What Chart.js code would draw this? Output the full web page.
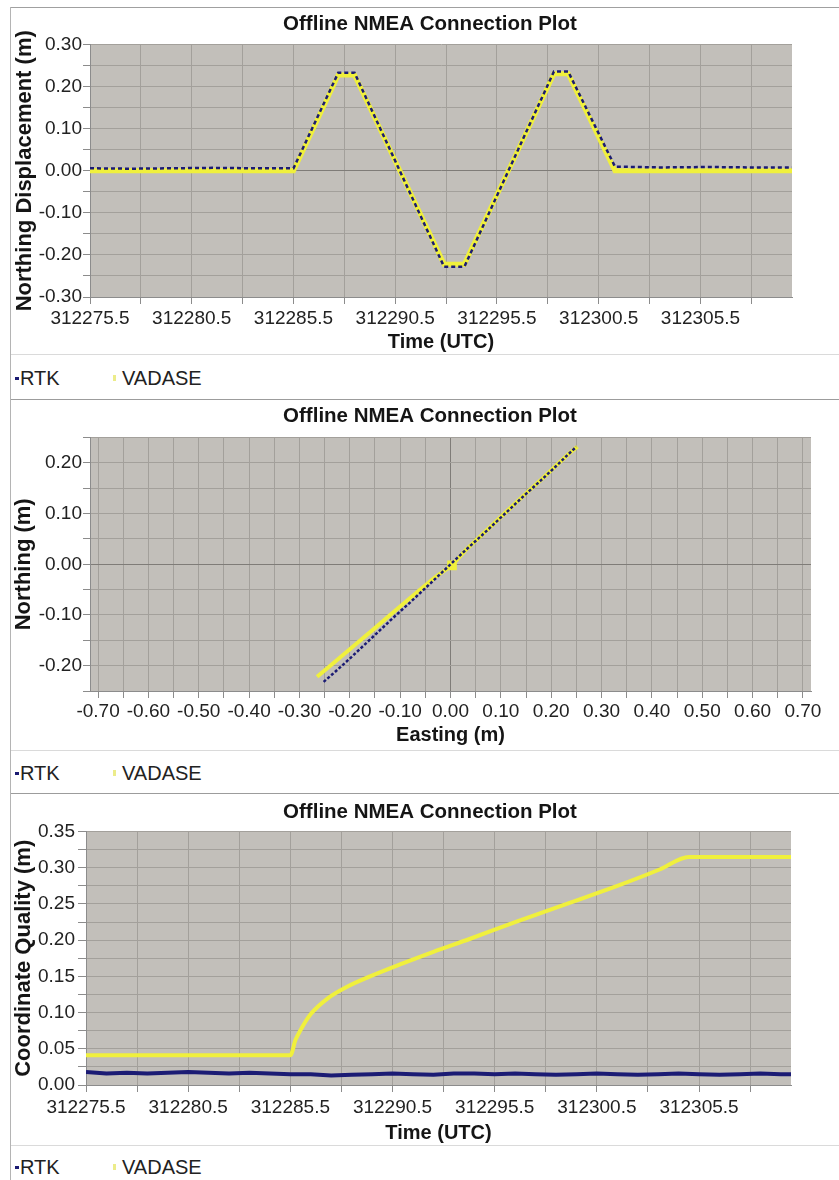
<!DOCTYPE html>
<html>
<head>
<meta charset="utf-8">
<title>Offline NMEA Connection Plot</title>
<script src="https://cdn.jsdelivr.net/npm/chart.js@4.4.1/dist/chart.umd.min.js"></script>
<style>
  body { margin:0; width:839px; height:1180px; position:relative; overflow:hidden; background:#fff; font-family:'Liberation Sans', Arial, sans-serif; }
  #frameTop { position:absolute; left:10px; top:7px; width:829px; height:1px; background:#a0a0a0; }
  #frameLeft { position:absolute; left:10px; top:7px; width:1px; height:1173px; background:#b4b4b4; }
  .line { position:absolute; left:11px; width:828px; height:1px; }
  .light { background:#dadada; }
  .dark { background:#9c9c9c; }
  canvas { position:absolute; left:11px; }
  .legend { position:absolute; left:11px; width:828px; height:24px; font-size:20px; line-height:24px; color:#222; }
  .legend span { position:absolute; }
  .mk-rtk { left:4px; top:11px; width:4px; height:3px; background:#1b1b72; }
  .txt-rtk { left:9px; top:0; }
  .mk-vad { left:102px; top:9px; width:3px; height:6px; background:#ecec8a; }
  .txt-vad { left:111px; top:0; }
</style>
</head>
<body>
<div id="frameTop"></div>
<div id="frameLeft"></div>

<canvas id="northChart" width="828" height="346" style="top:8px"></canvas>
<div class="line light" style="top:354px"></div>
<div class="legend" style="top:366px"><span class="mk-rtk"></span><span class="txt-rtk">RTK</span><span class="mk-vad"></span><span class="txt-vad">VADASE</span></div>
<div class="line dark" style="top:399px"></div>

<canvas id="planChart" width="828" height="350" style="top:400px"></canvas>
<div class="line light" style="top:750px"></div>
<div class="legend" style="top:761px"><span class="mk-rtk"></span><span class="txt-rtk">RTK</span><span class="mk-vad"></span><span class="txt-vad">VADASE</span></div>
<div class="line dark" style="top:793px"></div>

<canvas id="qualityChart" width="828" height="351" style="top:794px"></canvas>
<div class="line light" style="top:1145px"></div>
<div class="legend" style="top:1155px"><span class="mk-rtk"></span><span class="txt-rtk">RTK</span><span class="mk-vad"></span><span class="txt-vad">VADASE</span></div>

<script>
// top chart - northing displacement over time
const northTime = [312275.5, 312277.5, 312279.5, 312281.5, 312283.5, 312285.5, 312287.7, 312288.5, 312292.9, 312293.9, 312298.3, 312299.0, 312301.3, 312303.5, 312306.0, 312308.0, 312310.0];
const northRtk = [0.006, 0.005, 0.006, 0.007, 0.006, 0.006, 0.233, 0.233, -0.228, -0.228, 0.236, 0.236, 0.010, 0.008, 0.009, 0.008, 0.008];
const northVadase = [0.000, 0.000, 0.000, 0.000, 0.000, 0.000, 0.228, 0.228, -0.222, -0.222, 0.231, 0.231, 0.000, 0.000, 0.000, 0.000, 0.000];
const timeTickLabels = ['312275.5', '312280.5', '312285.5', '312290.5', '312295.5', '312300.5', '312305.5'];
const northTickLabels = ['-0.30', '-0.20', '-0.10', '0.00', '0.10', '0.20', '0.30'];

// middle chart - easting vs northing
const planRtkEast = [-0.252, -0.23, -0.20, -0.17, -0.14, -0.11, -0.08, -0.05, -0.02, 0.00, 0.03, 0.06, 0.09, 0.12, 0.15, 0.18, 0.21, 0.235, 0.25];
const planRtkNorth = [-0.232, -0.213, -0.186, -0.158, -0.130, -0.102, -0.075, -0.047, -0.019, 0.000, 0.028, 0.055, 0.083, 0.111, 0.139, 0.166, 0.194, 0.218, 0.232];
const planVadaseEast = [-0.265, -0.24, -0.21, -0.18, -0.15, -0.12, -0.09, -0.06, -0.03, 0.003, 0.03, 0.06, 0.09, 0.12, 0.15, 0.18, 0.21, 0.235, 0.252];
const planVadaseNorth = [-0.222, -0.201, -0.176, -0.151, -0.126, -0.100, -0.075, -0.050, -0.025, -0.002, 0.028, 0.056, 0.084, 0.112, 0.140, 0.167, 0.195, 0.218, 0.232];
const eastTickLabels = ['-0.70', '-0.60', '-0.50', '-0.40', '-0.30', '-0.20', '-0.10', '0.00', '0.10', '0.20', '0.30', '0.40', '0.50', '0.60', '0.70'];
const planNorthTickLabels = ['-0.20', '-0.10', '0.00', '0.10', '0.20'];

// bottom chart - coordinate quality over time
const qualityRtkTime = [312275.5, 312276.5, 312277.5, 312278.5, 312279.5, 312280.5, 312281.5, 312282.5, 312283.5, 312284.5, 312285.5, 312286.5, 312287.5, 312288.5, 312289.5, 312290.5, 312291.5, 312292.5, 312293.5, 312294.5, 312295.5, 312296.5, 312297.5, 312298.5, 312299.5, 312300.5, 312301.5, 312302.5, 312303.5, 312304.5, 312305.5, 312306.5, 312307.5, 312308.5, 312309.5, 312310.0];
const qualityRtk = [0.018, 0.016, 0.017, 0.016, 0.017, 0.018, 0.017, 0.016, 0.017, 0.016, 0.015, 0.015, 0.013, 0.014, 0.015, 0.016, 0.015, 0.014, 0.016, 0.016, 0.015, 0.016, 0.015, 0.014, 0.015, 0.016, 0.015, 0.014, 0.015, 0.016, 0.015, 0.014, 0.015, 0.016, 0.015, 0.015];
const qualityVadaseTime = [312275.5, 312285.5, 312285.75, 312286.0, 312286.5, 312287.3, 312288.3, 312289.4, 312291.0, 312292.5, 312294.3, 312296.5, 312299.2, 312301.5, 312303.6, 312305.0, 312310.0];
const qualityVadase = [0.041, 0.041, 0.062, 0.076, 0.098, 0.119, 0.136, 0.150, 0.168, 0.184, 0.202, 0.225, 0.252, 0.275, 0.298, 0.315, 0.315];
const qualityTickLabels = ['0.00', '0.05', '0.10', '0.15', '0.20', '0.25', '0.30', '0.35'];

const FONT = "'Liberation Sans', Arial, sans-serif";
const RTK_COLOR = '#1b1b74';
const VADASE_COLOR = '#f0f03c';
const PLOT_BG = '#c2bfba';
const GRID = '#a3a09b';
const ZERO = '#7f7c78';

// grey plot area like the original software
const plotBackground = {
  id: 'plotBackground',
  beforeDraw(chart) {
    const { ctx, chartArea: a } = chart;
    ctx.save();
    ctx.fillStyle = PLOT_BG;
    ctx.fillRect(a.left, a.top, a.right - a.left, a.bottom - a.top);
    ctx.restore();
  }
};

function points(xs, ys) {
  return xs.map((x, i) => ({ x: x, y: ys[i] }));
}

// tick every step, only some of them get a label
function tickSteps(first, step, last) {
  const out = [];
  const n = Math.round((last - first) / step);
  for (let i = 0; i <= n; i++) out.push({ value: Math.round((first + i * step) * 10000) / 10000 });
  return out;
}

function fixed(labels, digits) {
  return function (value) {
    const s = (Math.round(value * Math.pow(10, digits)) / Math.pow(10, digits)).toFixed(digits);
    return labels.includes(s) ? s : '';
  };
}

function axis(o) {
  return {
    type: 'linear',
    min: o.min,
    max: o.max,
    afterBuildTicks: s => { s.ticks = tickSteps(o.first, o.step, o.last); },
    afterFit: s => { if (s.isHorizontal()) s.height = o.size; else s.width = o.size; },
    ticks: {
      autoSkip: false, maxRotation: 0, minRotation: 0,
      padding: o.pad, color: '#222',
      font: { family: FONT, size: 19 },
      callback: o.format
    },
    grid: {
      color: ctx => (ctx.tick && Math.abs(ctx.tick.value) < 1e-6 && o.zero ? ZERO : GRID),
      tickLength: o.tick,
      tickColor: '#8c8c8c'
    },
    border: { color: '#8c8c8c' },
    title: {
      display: true, text: o.title, color: '#151515',
      font: { family: FONT, size: o.titleSize, weight: 'bold' },
      padding: o.titlePad
    }
  };
}

// empty right-hand axis, keeps the plot narrower without moving the title
function spacer(width) {
  return {
    type: 'linear', position: 'right', display: true,
    grid: { display: false }, ticks: { display: false }, border: { display: false },
    afterFit: s => { s.width = width; }
  };
}

function title(top, bottom) {
  return {
    display: true,
    text: 'Offline NMEA Connection Plot',
    color: '#151515',
    font: { family: FONT, size: 20.5, weight: 'bold' },
    padding: { top: top, bottom: bottom }
  };
}

Chart.defaults.animation = false;

new Chart(document.getElementById('northChart'), {
  type: 'line',
  data: {
    datasets: [{
      label: 'RTK',
      data: points(northTime, northRtk),
      borderColor: RTK_COLOR, borderWidth: 2.5, borderDash: [4, 3],
      pointRadius: 0, tension: 0
    }, {
      label: 'VADASE',
      data: points(northTime, northVadase),
      borderColor: VADASE_COLOR, borderWidth: 5,
      pointRadius: 0, tension: 0
    }]
  },
  options: {
    responsive: false,
    events: [],
    layout: { padding: { left: 10, right: 0, top: 0, bottom: 0 } },
    plugins: { legend: { display: false }, tooltip: { enabled: false }, title: title(4, 8) },
    scales: {
      x: axis({ min: 312275.5, max: 312310, first: 312275.5, step: 2.5, last: 312308, size: 57, pad: 3, tick: 7,
        format: v => (timeTickLabels.includes(v.toFixed(1)) ? v.toFixed(1) : ''),
        title: 'Time (UTC)', titleSize: 20, titlePad: { top: 0, bottom: 0 } }),
      y: axis({ min: -0.3, max: 0.3, first: -0.3, step: 0.05, last: 0.3, size: 69, pad: 1, tick: 7, zero: true,
        format: fixed(northTickLabels, 2),
        title: 'Northing Displacement (m)', titleSize: 22, titlePad: { top: -9, bottom: 0 } }),
      side: spacer(47)
    }
  },
  plugins: [plotBackground]
});

new Chart(document.getElementById('planChart'), {
  type: 'scatter',
  data: {
    datasets: [{
      label: 'RTK',
      data: points(planRtkEast, planRtkNorth),
      showLine: true,
      borderColor: RTK_COLOR, borderWidth: 2.5, borderDash: [3, 2],
      pointRadius: 0
    }, {
      label: 'VADASE',
      data: points(planVadaseEast, planVadaseNorth),
      showLine: true,
      borderColor: VADASE_COLOR, borderWidth: 4,
      pointStyle: 'rect',
      pointBackgroundColor: VADASE_COLOR, pointBorderColor: VADASE_COLOR,
      pointRadius: ctx => (ctx.raw && Math.abs(ctx.raw.x) < 0.01 && Math.abs(ctx.raw.y) < 0.01 ? 4 : 0)
    }]
  },
  options: {
    responsive: false,
    events: [],
    layout: { padding: { left: 10, right: 0, top: 0, bottom: 0 } },
    plugins: { legend: { display: false }, tooltip: { enabled: false }, title: title(4, 9) },
    scales: {
      x: axis({ min: -0.716, max: 0.716, first: -0.7, step: 0.05, last: 0.7, size: 59, pad: 2, tick: 7, zero: true,
        format: fixed(eastTickLabels, 2),
        title: 'Easting (m)', titleSize: 20, titlePad: { top: 0, bottom: 3 } }),
      y: axis({ min: -0.25, max: 0.25, first: -0.25, step: 0.05, last: 0.25, size: 69, pad: 1, tick: 7, zero: true,
        format: fixed(planNorthTickLabels, 2),
        title: 'Northing (m)', titleSize: 22, titlePad: { top: -10, bottom: 0 } }),
      side: spacer(28)
    }
  },
  plugins: [plotBackground]
});

new Chart(document.getElementById('qualityChart'), {
  type: 'line',
  data: {
    datasets: [{
      label: 'RTK',
      data: points(qualityRtkTime, qualityRtk),
      borderColor: RTK_COLOR, borderWidth: 4,
      pointRadius: 0, tension: 0
    }, {
      label: 'VADASE',
      data: points(qualityVadaseTime, qualityVadase),
      borderColor: VADASE_COLOR, borderWidth: 4,
      pointRadius: 0, cubicInterpolationMode: 'monotone'
    }]
  },
  options: {
    responsive: false,
    events: [],
    layout: { padding: { left: 10, right: 0, top: 0, bottom: 0 } },
    plugins: { legend: { display: false }, tooltip: { enabled: false }, title: title(6, 7) },
    scales: {
      x: axis({ min: 312275.5, max: 312310, first: 312275.5, step: 2.5, last: 312308, size: 60, pad: 4, tick: 7,
        format: v => (timeTickLabels.includes(v.toFixed(1)) ? v.toFixed(1) : ''),
        title: 'Time (UTC)', titleSize: 20, titlePad: { top: 0, bottom: 0 } }),
      y: axis({ min: 0, max: 0.35, first: 0, step: 0.025, last: 0.35, size: 65, pad: 3, tick: 8,
        format: fixed(qualityTickLabels, 2),
        title: 'Coordinate Quality (m)', titleSize: 22, titlePad: { top: -10, bottom: 0 } }),
      side: spacer(48)
    }
  },
  plugins: [plotBackground]
});
</script>
</body>
</html>
